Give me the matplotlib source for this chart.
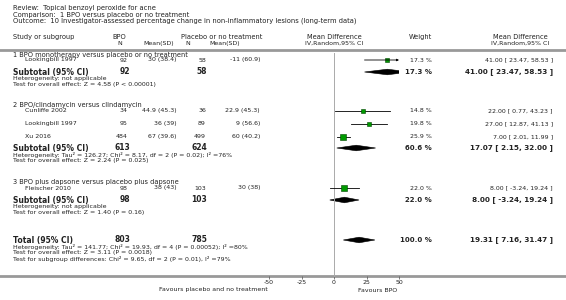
import matplotlib.pyplot as plt
from matplotlib.patches import Polygon

# ── Dados ─────────────────────────────────────────────────────────────── #
header_lines = [
    "Review:  Topical benzoyl peroxide for acne",
    "Comparison:  1 BPO versus placebo or no treatment",
    "Outcome:  10 Investigator-assessed percentage change in non-inflammatory lesions (long-term data)",
]

group_titles = [
    "1 BPO monotherapy versus placebo or no treatment",
    "2 BPO/clindamycin versus clindamycin",
    "3 BPO plus dapsone versus placebo plus dapsone",
]

study_group = [0, 1, 1, 1, 2]
study_names = ["Lookingbill 1997", "Cunliffe 2002", "Lookingbill 1997", "Xu 2016", "Fleischer 2010"]
bpo_n = [92, 34, 95, 484, 98]
bpo_msd = ["30 (38.4)", "44.9 (45.3)", "36 (39)", "67 (39.6)", "38 (43)"]
pla_n = [58, 36, 89, 499, 103]
pla_msd = ["-11 (60.9)", "22.9 (45.3)", "9 (56.6)", "60 (40.2)", "30 (38)"]
md = [41.00, 22.00, 27.00, 7.00, 8.00]
md_lo = [23.47, 0.77, 12.87, 2.01, -3.24]
md_hi = [58.53, 43.23, 41.13, 11.99, 19.24]
weight = [17.3, 14.8, 19.8, 25.9, 22.0]

sub_bpo_n = [92, 613, 98]
sub_pla_n = [58, 624, 103]
sub_md = [41.00, 17.07, 8.00]
sub_lo = [23.47, 2.15, -3.24]
sub_hi = [58.53, 32.00, 19.24]
sub_weight = [17.3, 60.6, 22.0]
sub_het = [
    "Heterogeneity: not applicable",
    "Heterogeneity: Tau\u00b2 = 126.27; Chi\u00b2 = 8.17, df = 2 (P = 0.02); I\u00b2 =76%",
    "Heterogeneity: not applicable",
]
sub_test = [
    "Test for overall effect: Z = 4.58 (P < 0.00001)",
    "Test for overall effect: Z = 2.24 (P = 0.025)",
    "Test for overall effect: Z = 1.40 (P = 0.16)",
]

total_n = [803, 785]
total_md, total_lo, total_hi, total_w = 19.31, 7.16, 31.47, 100.0
total_notes = [
    "Heterogeneity: Tau\u00b2 = 141.77; Chi\u00b2 = 19.93, df = 4 (P = 0.00052); I\u00b2 =80%",
    "Test for overall effect: Z = 3.11 (P = 0.0018)",
    "Test for subgroup differences: Chi\u00b2 = 9.65, df = 2 (P = 0.01), I\u00b2 =79%",
]

xticks = [-50, -25, 0, 25, 50]
favours = ["Favours placebo and no treatment", "Favours BPO"]

# ── Layout (pixels) ───────────────────────────────────────────────────── #
W, H = 566, 300
study_y = [60, 110.5, 123.5, 136.5, 188]
title_y = [55, 105, 182]
sub_y = [72, 148, 200]
total_y = 240
axis_y = 276

TXT = "#222222"
SMALL = 4.5
BOLD = 5.5

fig = plt.figure(figsize=(W / 100, H / 100), dpi=100)
bg = fig.add_axes([0, 0, 1, 1])
bg.set_xlim(0, W)
bg.set_ylim(H, 0)
bg.axis("off")


def t(x, y, s, ha="left", size=SMALL, bold=False):
    bg.text(x, y, s, ha=ha, va="center", fontsize=size, color=TXT,
            fontweight="bold" if bold else "normal")


for i, s in enumerate(header_lines):
    t(13, 8 + i * 6.5, s, size=SMALL + 0.4)

# cabeçalho da tabela
t(13, 37, "Study or subgroup", size=SMALL + 0.3)
t(112, 37, "BPO", size=SMALL + 0.3)
t(122, 43.5, "N", ha="right")
t(159, 43.5, "Mean(SD)", ha="center")
t(181, 37, "Placebo or no treatment", size=SMALL + 0.3)
t(190, 43.5, "N", ha="right")
t(225, 43.5, "Mean(SD)", ha="center")
t(334, 37, "Mean Difference", ha="center", size=SMALL + 0.3)
t(334, 43.5, "IV,Random,95% CI", ha="center")
t(420, 37, "Weight", ha="center", size=SMALL + 0.3)
t(520, 37, "Mean Difference", ha="center", size=SMALL + 0.3)
t(520, 43.5, "IV,Random,95% CI", ha="center")

bg.axhline(50, color="#999999", lw=2)
bg.axhline(axis_y, color="#999999", lw=2)

# ── Eixo do forest plot ───────────────────────────────────────────────── #
x0, x1 = 269, 399
fa = fig.add_axes([x0 / W, (H - axis_y) / H, (x1 - x0) / W, axis_y / H])
fa.set_xlim(-50, 50)
fa.set_ylim(axis_y, 0)
fa.patch.set_alpha(0)
for sp in fa.spines.values():
    sp.set_visible(False)
fa.set_yticks([])
fa.set_xticks(xticks)
fa.set_xticklabels([str(v) for v in xticks])
fa.tick_params(axis="x", length=2, width=0.6, color="#666666",
               labelsize=SMALL, labelcolor=TXT, pad=1)
fa.plot([0, 0], [53, axis_y], color="#aaaaaa", lw=0.7, clip_on=False)


def diamond(m, lo, hi, y, h=2.8):
    fa.add_patch(Polygon([(lo, y), (m, y - h), (hi, y), (m, y + h)],
                         closed=True, fc="black", ec="black", lw=0.4))


for i, name in enumerate(study_names):
    y = study_y[i]
    t(25, y, name)
    t(128, y, str(bpo_n[i]), ha="right")
    t(177, y, bpo_msd[i], ha="right")
    t(206, y, str(pla_n[i]), ha="right")
    t(260, y, pla_msd[i], ha="right")
    t(432, y, f"{weight[i]:.1f} %", ha="right")
    t(553, y, f"{md[i]:.2f} [ {md_lo[i]:.2f}, {md_hi[i]:.2f} ]", ha="right")

    if md_hi[i] > 50:
        fa.annotate("", xy=(50, y), xytext=(md_lo[i], y),
                    arrowprops=dict(arrowstyle="-|>", lw=0.6, color="black",
                                    mutation_scale=3, shrinkA=0, shrinkB=0))
    else:
        fa.plot([md_lo[i], md_hi[i]], [y, y], color="black", lw=0.6)
    side = 0.24 * weight[i] * 0.72
    fa.plot(md[i], y, marker="s", ms=side, mfc="#009a00", mec="#004400", mew=0.4)

for g in range(3):
    t(13, title_y[g], group_titles[g], size=SMALL + 0.3)
    y = sub_y[g]
    t(13, y, "Subtotal (95% CI)", size=BOLD, bold=True)
    t(130, y, str(sub_bpo_n[g]), ha="right", size=BOLD, bold=True)
    t(207, y, str(sub_pla_n[g]), ha="right", size=BOLD, bold=True)
    t(432, y, f"{sub_weight[g]:.1f} %", ha="right", size=5.0, bold=True)
    t(553, y, f"{sub_md[g]:.2f} [ {sub_lo[g]:.2f}, {sub_hi[g]:.2f} ]",
      ha="right", size=5.2, bold=True)
    t(13, y + 6.5, sub_het[g])
    t(13, y + 12.5, sub_test[g])
    diamond(sub_md[g], sub_lo[g], sub_hi[g], y)

t(13, total_y, "Total (95% CI)", size=BOLD, bold=True)
t(130, total_y, str(total_n[0]), ha="right", size=BOLD, bold=True)
t(207, total_y, str(total_n[1]), ha="right", size=BOLD, bold=True)
t(432, total_y, f"{total_w:.1f} %", ha="right", size=5.0, bold=True)
t(553, total_y, f"{total_md:.2f} [ {total_lo:.2f}, {total_hi:.2f} ]",
  ha="right", size=5.2, bold=True)
for i, s in enumerate(total_notes):
    t(13, total_y + 6.5 + i * 6, s)
diamond(total_md, total_lo, total_hi, total_y)

t(268, 290, favours[0], ha="right")
t(358, 290, favours[1])

fig.savefig("out.png", dpi=100)
